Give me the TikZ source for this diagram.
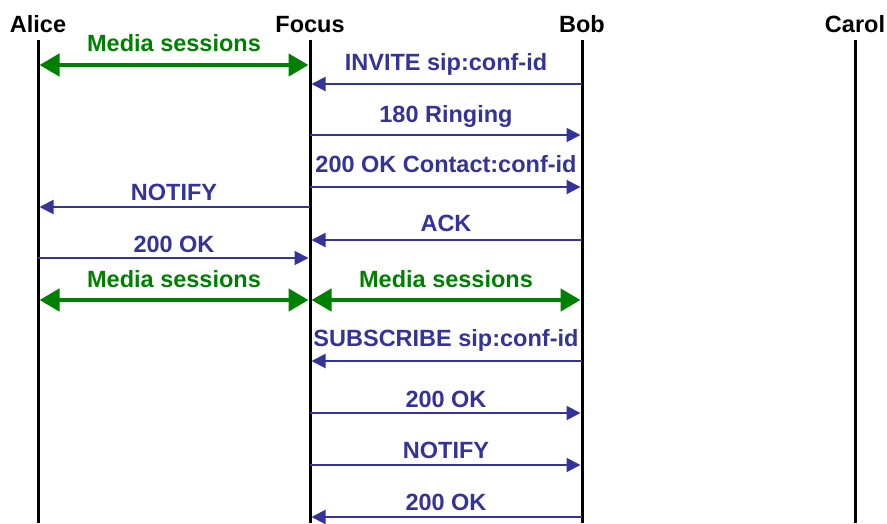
\documentclass[tikz,border=0pt]{standalone}
\usepackage{fontspec}
\setmainfont{Liberation Sans}
\usetikzlibrary{arrows.meta}
\definecolor{sipblue}{RGB}{51,51,153}
\definecolor{mediagreen}{RGB}{0,128,0}

% message: style, from, to, y, label, label raise
\newcommand\Message[6]{%
  \path (#2 |- 0,#4) coordinate (s#4) (#3 |- 0,#4) coordinate (e#4);
  \draw[#1] (s#4) -- (e#4) node[midway, anchor=base, yshift=#6pt] {#5};
}

\begin{document}
\begin{tikzpicture}[x=1pt, y=-1pt,
    every node/.style = {font=\fontsize{23.5}{28}\selectfont\bfseries, inner sep=0pt},
    lifeline/.style = {line width=3pt},
    sipmsg/.style = {sipblue, line width=2pt, shorten >=1.5pt,
      -{Triangle[length=14pt,width=14pt]}},
    media/.style = {mediagreen, line width=4.5pt, shorten >=1.5pt, shorten <=1.5pt,
      {Triangle[length=20pt,width=22pt]}-{Triangle[length=20pt,width=22pt]}}]
  \useasboundingbox (0,0) rectangle (887,523);

  % Participants
  \node[anchor=base] (alice) at (38,32) {Alice};
  \node[anchor=base] (focus) at (310,32) {Focus};
  \node[anchor=base] (bob)   at (582,32) {Bob};
  \node[anchor=base] (carol) at (855,32) {Carol};

  % Lifelines
  \coordinate (a) at (38,40);
  \coordinate (f) at (310,40);
  \coordinate (b) at (582,40);
  \coordinate (c) at (855,40);
  \foreach \p in {a,f,b,c}
    \draw[lifeline] (\p) -- (\p |- 0,523);

  % Messages
  \Message{media}{a}{f}{65}{Media sessions}{14}
  \Message{sipmsg}{b}{f}{84}{INVITE sip:conf-id}{14}
  \Message{sipmsg}{f}{b}{135}{180 Ringing}{13}
  \Message{sipmsg}{f}{b}{187}{200 OK Contact:conf-id}{15}
  \Message{sipmsg}{f}{a}{207}{NOTIFY}{7}
  \Message{sipmsg}{b}{f}{240}{ACK}{9}
  \Message{sipmsg}{a}{f}{258}{200 OK}{6}
  \Message{media}{a}{f}{300}{Media sessions}{13}
  \Message{media}{f}{b}{300}{Media sessions}{13}
  \Message{sipmsg}{b}{f}{361}{SUBSCRIBE sip:conf-id}{15}
  \Message{sipmsg}{f}{b}{413}{200 OK}{6}
  \Message{sipmsg}{f}{b}{465}{NOTIFY}{7}
  \Message{sipmsg}{b}{f}{517}{200 OK}{7}
\end{tikzpicture}
\end{document}
